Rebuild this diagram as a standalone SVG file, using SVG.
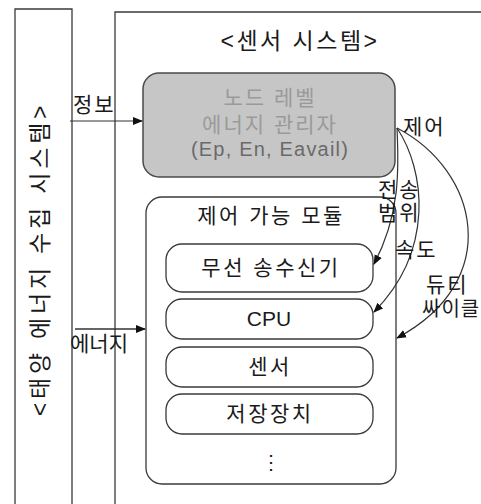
<svg xmlns="http://www.w3.org/2000/svg" width="481" height="504" viewBox="0 0 481 504">
<style>
text{font-family:"Liberation Sans","Noto Sans CJK KR",sans-serif;fill:#1a1a1a}
.frame{fill:none;stroke:#3a3a3a;stroke-width:1.3}
.box{fill:#fff;stroke:#3a3a3a;stroke-width:1.3}
.gray{fill:#c6c6c6;stroke:#4a4a4a;stroke-width:1.5}
.conn{fill:none;stroke:#333;stroke-width:1.2}
.lab{font-size:21px;letter-spacing:2px}
.mod{font-size:21px;letter-spacing:2.5px;text-anchor:middle}
</style>
<defs>
<marker id="ah" viewBox="0 0 10 10" refX="9" refY="5" markerWidth="10" markerHeight="10" markerUnits="userSpaceOnUse" orient="auto">
<path d="M0,1 L10,5 L0,9 Z" fill="#111"/>
</marker>
</defs>
<rect width="481" height="504" fill="#fff"/>
<g id="solar-system">
<path class="frame" d="M15,504 V9 H72 V504"/>
<text transform="translate(40,259) rotate(-90)" font-size="23" letter-spacing="3.8" text-anchor="middle" dominant-baseline="central">&lt;태양 에너지 수집 시스템&gt;</text>
</g>
<g id="sensor-system">
<path class="frame" d="M115,504 V12 H481"/>
<text x="300" y="49" font-size="23" letter-spacing="2.5" text-anchor="middle">&lt;센서 시스템&gt;</text>
</g>
<g id="energy-manager">
<rect class="gray" x="143" y="73" width="252" height="104" rx="16"/>
<text x="270" y="105" font-size="21" letter-spacing="2" text-anchor="middle" style="fill:#9a9a9a">노드 레벨</text>
<text x="270" y="132" font-size="21" letter-spacing="2" text-anchor="middle" style="fill:#9a9a9a">에너지 관리자</text>
<text x="270" y="156" font-size="20" letter-spacing="1.2" text-anchor="middle" style="fill:#6a6a6a">(Ep, En, Eavail)</text>
</g>
<g id="controllable-modules">
<rect class="box" x="146" y="197" width="250" height="287" rx="16"/>
<text x="271" y="223" font-size="21" letter-spacing="2.5" text-anchor="middle">제어 가능 모듈</text>
<text x="271" y="469" font-size="20" text-anchor="middle">⋮</text>
</g>
<g id="radio">
<rect class="box" x="166" y="244" width="207" height="48" rx="16"/>
<text class="mod" x="271" y="275">무선 송수신기</text>
</g>
<g id="cpu">
<rect class="box" x="166" y="299" width="207" height="40" rx="16"/>
<text x="269" y="326" font-size="21" text-anchor="middle">CPU</text>
</g>
<g id="sensor">
<rect class="box" x="166" y="347" width="207" height="40" rx="16"/>
<text class="mod" x="270" y="374">센서</text>
</g>
<g id="storage">
<rect class="box" x="166" y="394" width="207" height="40" rx="16"/>
<text class="mod" x="270" y="421">저장장치</text>
</g>
<g id="connectors">
<path class="conn" d="M70,121 H142" marker-end="url(#ah)"/>
<text class="lab" x="73" y="112">정보</text>
<path class="conn" d="M75,329 H145" marker-end="url(#ah)" style="stroke-width:1.6"/>
<text x="70" y="351" font-size="21">에너지</text>
<path class="conn" d="M397,128 C399,170 400,215 374,264" marker-end="url(#ah)"/>
<path class="conn" d="M397,128 C425,170 435,250 374,312" marker-end="url(#ah)"/>
<path class="conn" d="M397,128 C478,170 505,280 397,338" marker-end="url(#ah)"/>
<text class="lab" x="403" y="134">제어</text>
<text class="lab" x="378" y="197">전송</text>
<text class="lab" x="378" y="220">범위</text>
<text class="lab" x="395" y="257">속도</text>
<text class="lab" x="426" y="292">듀티</text>
<text x="422" y="316" font-size="20" letter-spacing="1">싸이클</text>
</g>
</svg>
